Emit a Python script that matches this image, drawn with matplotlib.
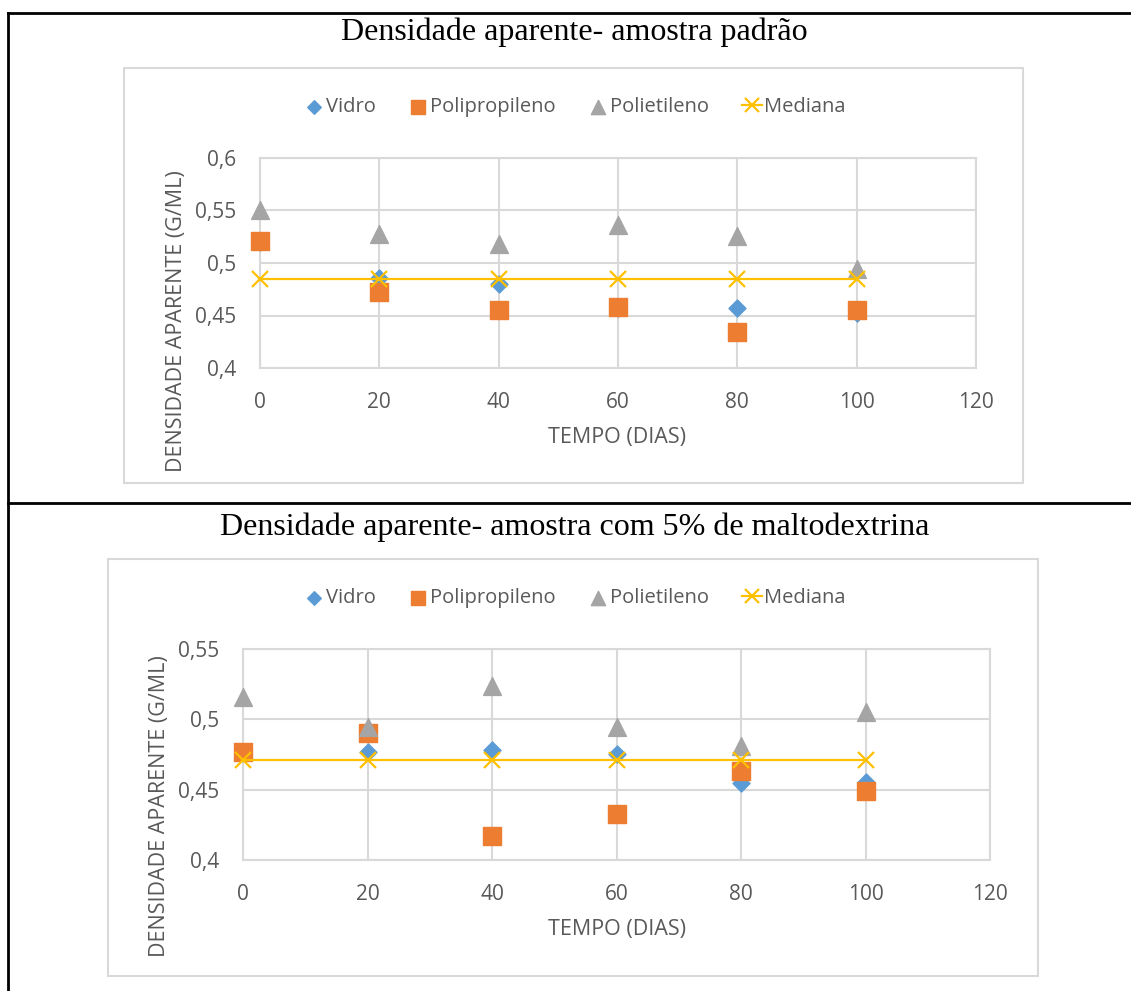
import matplotlib
matplotlib.use("Agg")
import matplotlib.pyplot as plt
from matplotlib.lines import Line2D
from matplotlib.patches import Rectangle
from matplotlib.ticker import FuncFormatter

# =====================================================
# DATA
# =====================================================

dias = [0, 20, 40, 60, 80, 100]

# amostra padrao
vidro_a = [0.520, 0.486, 0.480, 0.457, 0.457, 0.452]
polipropileno_a = [0.521, 0.472, 0.455, 0.458, 0.434, 0.455]
polietileno_a = [0.550, 0.528, 0.518, 0.536, 0.526, 0.494]
mediana_a = [0.4845, 0.4845, 0.4845, 0.4845, 0.4845, 0.4845]

# amostra com 5% de maltodextrina
vidro_b = [0.477, 0.477, 0.478, 0.4755, 0.455, 0.4555]
polipropileno_b = [0.477, 0.490, 0.417, 0.433, 0.463, 0.449]
polietileno_b = [0.516, 0.4945, 0.5235, 0.4945, 0.481, 0.505]
mediana_b = [0.4712, 0.4712, 0.4712, 0.4712, 0.4712, 0.4712]

titulos = ["Densidade aparente- amostra padrão",
           "Densidade aparente- amostra com 5% de maltodextrina"]
legendas = ["Vidro", "Polipropileno", "Polietileno", "Mediana"]
x_ticks = [0, 20, 40, 60, 80, 100, 120]
y_ticks_a = [0.4, 0.45, 0.5, 0.55, 0.6]
y_ticks_b = [0.4, 0.45, 0.5, 0.55]

# =====================================================
# STYLE
# =====================================================

W, H = 1131, 991
TXT = "#595959"
GRID = "#D9D9D9"
FONT = "Open Sans"

fig = plt.figure(figsize=(W / 100, H / 100), dpi=100)


def fx(px):
    return px / W


def fy(py):
    return 1 - py / H


# table borders
fig.add_artist(Line2D([fx(8), fx(8)], [fy(13), fy(991)], color="black", lw=2))
fig.add_artist(Line2D([fx(8), fx(1131)], [fy(13), fy(13)], color="black", lw=2))
fig.add_artist(Line2D([fx(8), fx(1131)], [fy(503), fy(503)], color="black", lw=2))

# chart boxes
fig.add_artist(Rectangle((fx(124), fy(483)), fx(1023) - fx(124), fy(68) - fy(483),
                         fill=False, edgecolor=GRID, lw=1.5))
fig.add_artist(Rectangle((fx(108), fy(976)), fx(1038) - fx(108), fy(559) - fy(976),
                         fill=False, edgecolor=GRID, lw=1.5))


def virgula(v, pos):
    s = f"{v:.2f}".rstrip("0").rstrip(".")
    return s.replace(".", ",")


def grafico(box, vidro, pp, pe, med, yticks, titulo, title_y, leg_y, ylab_x, ylab_y, xlab_y):
    ax = fig.add_axes(box)
    ax.scatter(dias, vidro, marker="D", s=75, color="#5B9BD5", zorder=3, label=legendas[0])
    ax.scatter(dias, pp, marker="s", s=165, color="#ED7D31", zorder=4, label=legendas[1])
    ax.scatter(dias, pe, marker="^", s=165, color="#A5A5A5", zorder=5, label=legendas[2])
    ax.plot(dias, med, color="#FFC000", lw=1.6, marker="x", ms=12, mew=1.6,
            zorder=6, label=legendas[3])

    ax.set_xlim(0, 120)
    ax.set_ylim(yticks[0], yticks[-1])
    ax.set_xticks(x_ticks)
    ax.set_yticks(yticks)
    ax.yaxis.set_major_formatter(FuncFormatter(virgula))
    ax.grid(True, color=GRID, lw=1.5, zorder=0)
    for sp in ax.spines.values():
        sp.set_color(GRID)
        sp.set_linewidth(1.5)
    ax.tick_params(length=0, labelsize=15, labelcolor=TXT)
    ax.tick_params(axis="x", pad=17)
    ax.tick_params(axis="y", pad=17)
    for lab in ax.get_xticklabels() + ax.get_yticklabels():
        lab.set_fontfamily(FONT)
    for c in ax.collections + ax.lines:
        c.set_clip_on(False)

    fig.text(0.508, fy(title_y), titulo, ha="center", va="center",
             fontsize=23, family="Liberation Serif")
    fig.legend(*ax.get_legend_handles_labels(), loc="center",
               bbox_to_anchor=(0.508, fy(leg_y)), ncol=4, frameon=False,
               prop={"family": FONT, "size": 14.5}, labelcolor=TXT,
               handletextpad=0.1, columnspacing=1.6, markerscale=0.8,
               handlelength=1.0)
    fig.text(fx(ylab_x), fy(ylab_y), "DENSIDADE APARENTE (G/ML)", rotation=90,
             ha="center", va="center", fontsize=15.5, color=TXT, family=FONT)
    fig.text(fx(617), fy(xlab_y), "TEMPO (DIAS)", ha="center", va="center",
             fontsize=15.5, color=TXT, family=FONT)
    return ax


grafico([fx(260), fy(368), fx(976) - fx(260), fy(158) - fy(368)],
        vidro_a, polipropileno_a, polietileno_a, mediana_a, y_ticks_a,
        titulos[0], 32, 107, 176, 321, 437)

grafico([fx(243), fy(860), fx(990) - fx(243), fy(649) - fy(860)],
        vidro_b, polipropileno_b, polietileno_b, mediana_b, y_ticks_b,
        titulos[1], 527, 598, 160, 806, 930)

plt.savefig("out.png", dpi=100)
